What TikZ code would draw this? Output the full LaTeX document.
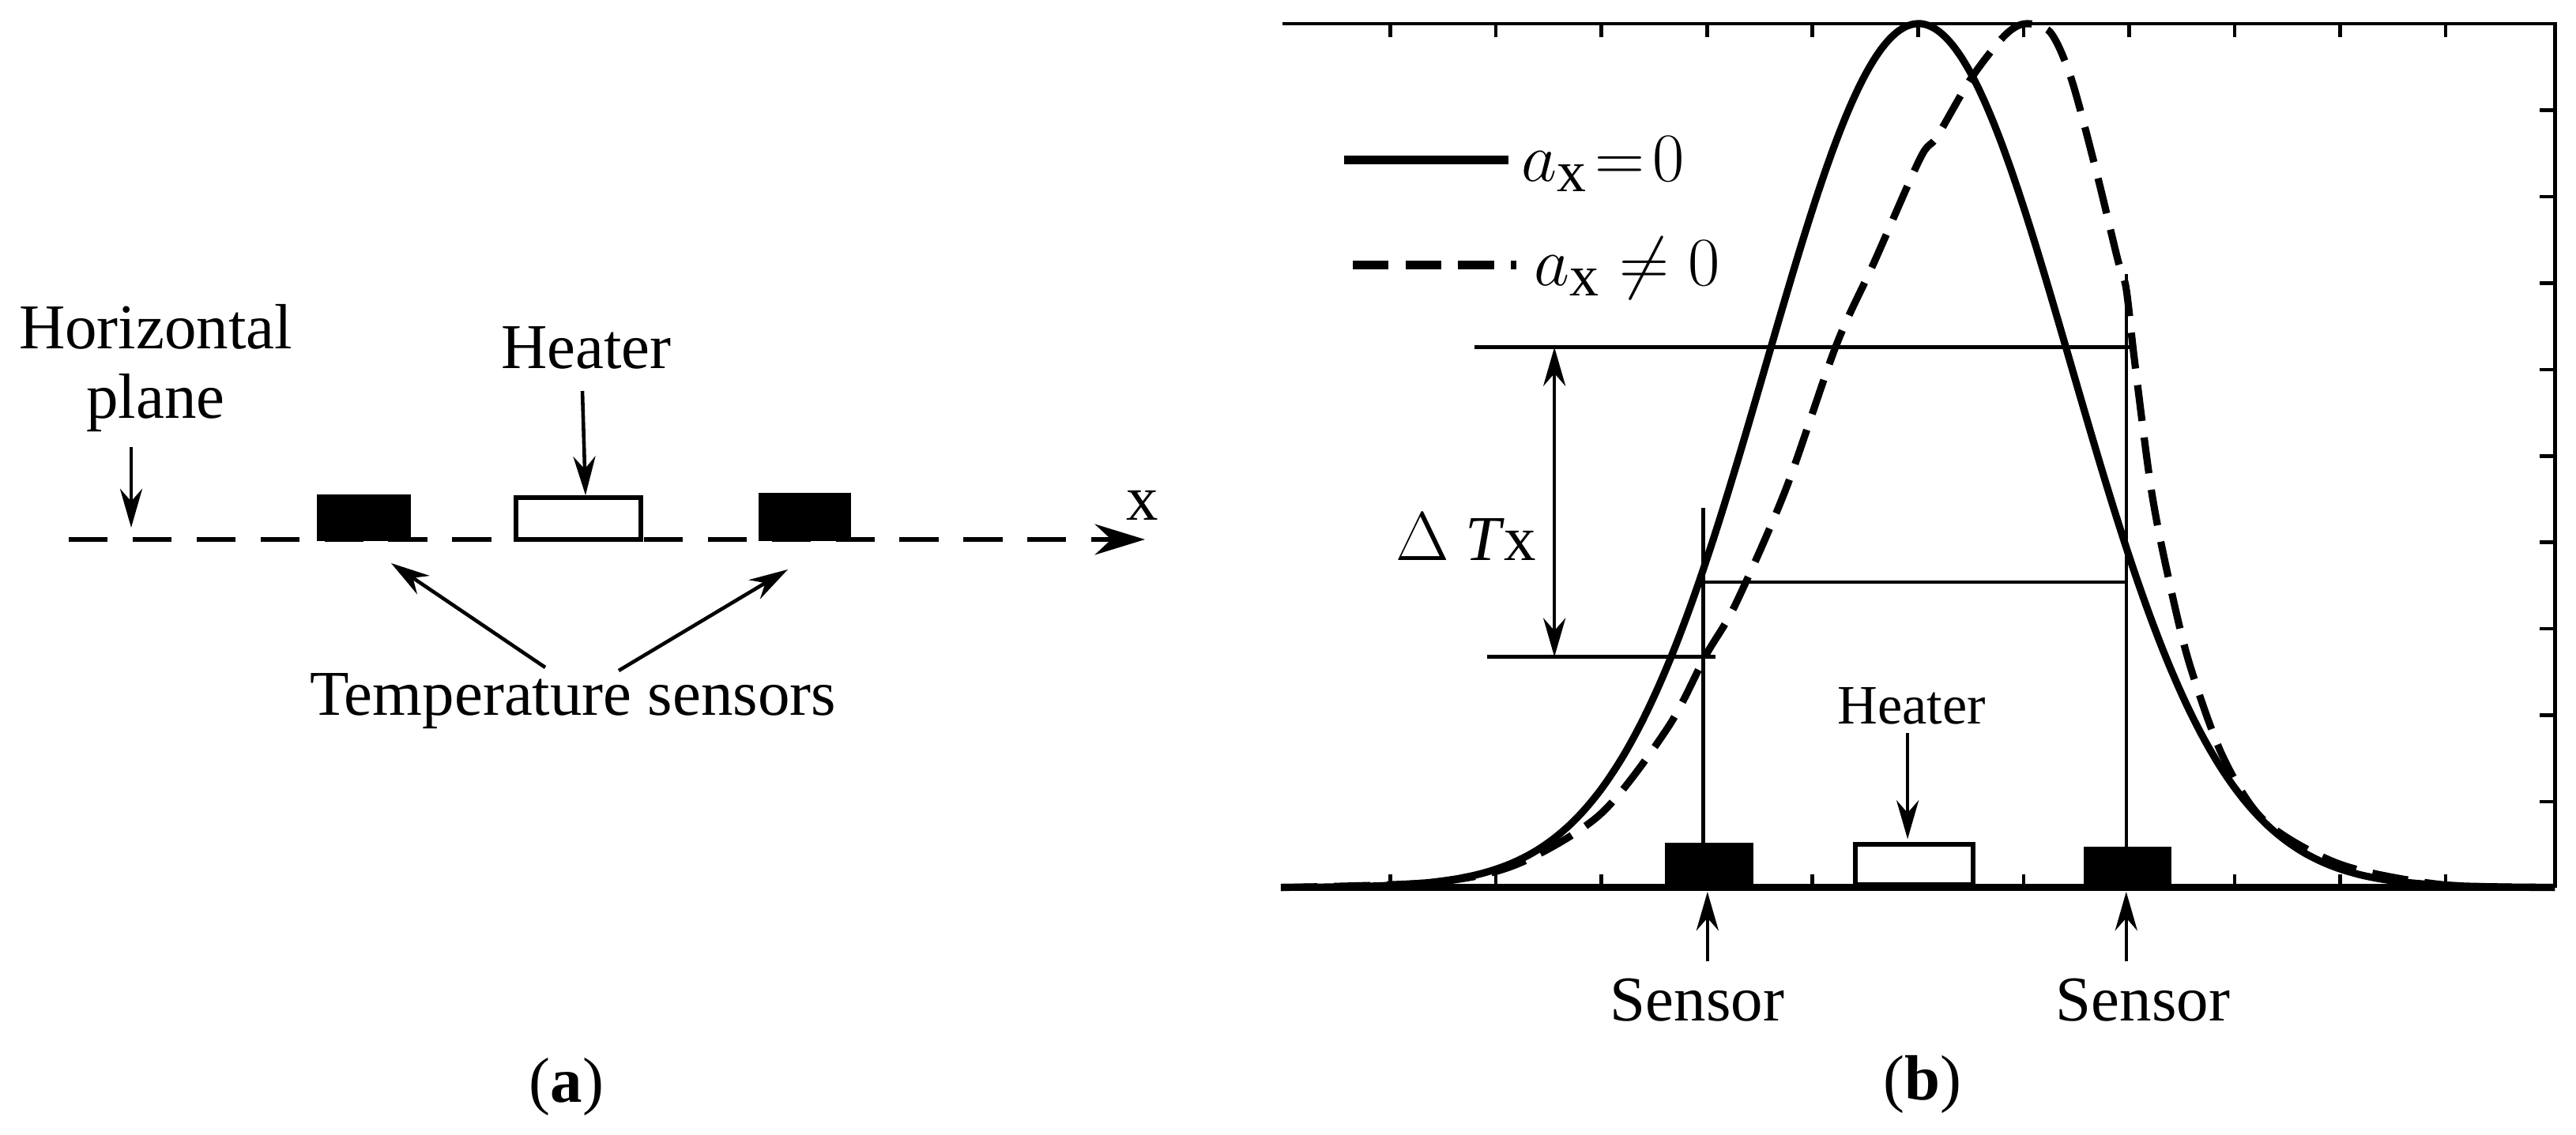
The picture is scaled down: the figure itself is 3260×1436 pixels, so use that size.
\documentclass[tikz,border=0pt]{standalone}
\usepackage{fontspec}
\setmainfont{Liberation Serif}
\usetikzlibrary{arrows.meta}
\begin{document}
\begin{tikzpicture}[x=0.01cm,y=-0.01cm,
  lbl/.style={font=\fontsize{23}{25}\selectfont,inner sep=0pt},
  thin/.style={line width=1.3pt},
  arr/.style={line width=1.3pt,-{Stealth[length=14pt,width=8pt]}},
  darr/.style={line width=1.3pt,{Stealth[length=14pt,width=8pt]}-{Stealth[length=14pt,width=8pt]}},
  thick/.style={line width=2.6pt},
  sensorbox/.style={draw,fill=black,line width=1.2pt},
  heaterbox/.style={draw,fill=white,line width=1.6pt}]
\useasboundingbox (0,0) rectangle (3260,1436);
% ---------- panel (a)
\coordinate (xs) at (87,683);
\coordinate (xe) at (1449,683);
\draw[line width=1.8pt,dash pattern=on 14pt off 9pt,-{Stealth[length=18pt,width=11pt]}] (xs) -- (xe);
\node[lbl,anchor=west] (xl) at (1425,640) {x};
\draw[sensorbox] (403,628) rectangle (518,683);
\draw[heaterbox] (653,630) rectangle (811,683);
\draw[sensorbox] (962,626) rectangle (1075,683);
\node[lbl,align=center] (hp) at (197,466) {Horizontal\\plane};
\coordinate (hpa) at (166,566);
\coordinate (hpb) at (166,668);
\draw[arr] (hpa) -- (hpb);
\node[lbl] (ha) at (742,440) {Heater};
\coordinate (haa) at (737,495);
\coordinate (hab) at (741,627);
\draw[arr] (haa) -- (hab);
\node[lbl] (ts) at (725,888) {Temperature sensors};
\coordinate (t1) at (690,845);
\coordinate (t1e) at (495,713);
\coordinate (t2) at (783,849);
\coordinate (t2e) at (997,721);
\draw[arr] (t1) -- (t1e);
\draw[arr] (t2) -- (t2e);
\node[lbl] (la) at (717,1376) {(\textbf{a})};
% ---------- panel (b)
\begin{scope}[shift={(1600,0)},xscale=1.064,yscale=0.912]
\draw[thin] (22,33) -- (1535,33) -- (1535,1232);
\draw[thick] (20,1232) -- (1535,1232);
\foreach \i in {0,...,10} {
  \draw[thin] (150+125.5*\i,1232) -- (150+125.5*\i,1214);
  \draw[thin] (150+125.5*\i,33) -- (150+125.5*\i,51);
}
\foreach \j in {0,...,8} {
  \draw[thin] (1535,153+120*\j) -- (1517,153+120*\j);
}
\draw[thick] plot[smooth,domain=-4.19:4.18,samples=160] ({778+181*\x},{1232-1199*exp(-0.5*\x*\x)});
\draw[thick,dash pattern=on 13pt off 6pt] plot[smooth,tension=0.5] coordinates {
(20,1232)(200,1225)(300,1200)(400,1130)(480,1010)(525,910)(560,840)(620,680)(680,480)(725,365)(780,220)(800,190)(840,110)(880,50)(905,33)(935,45)(960,110)(990,240)(1015,360)(1025,400)(1035,500)(1055,680)(1075,800)(1100,920)(1140,1050)(1190,1140)(1280,1200)(1400,1228)(1535,1232)};
% legend
\coordinate (l1a) at (95,222); \coordinate (l1b) at (290,222);
\draw[line width=3pt] (l1a) -- (l1b);
\node[font=\fontsize{30}{34}\selectfont,anchor=west,inner sep=0pt] (le1) at (305,228) {$a_{\mathrm{x}}\!=\!0$};
\coordinate (l2a) at (105,368); \coordinate (l2b) at (300,368);
\draw[line width=3pt,dash pattern=on 13pt off 6pt] (l2a) -- (l2b);
\node[font=\fontsize{30}{34}\selectfont,anchor=west,inner sep=0pt] (le2) at (320,372) {$a_{\mathrm{x}}\neq 0$};
% guides
\coordinate (v1a) at (522,705); \coordinate (v1b) at (522,1175);
\coordinate (v2a) at (1025,380); \coordinate (v2b) at (1025,1180);
\draw[thin] (v1a) -- (v1b);
\draw[thin] (v2a) -- (v2b);
\coordinate (h1a) at (250,482); \coordinate (h1b) at (1030,482);
\coordinate (h2a) at (522,808); \coordinate (h2b) at (1025,808);
\coordinate (h3a) at (265,912); \coordinate (h3b) at (537,912);
\draw[thin] (h1a) -- (h1b);
\draw[thin] (h2a) -- (h2b);
\draw[thin] (h3a) -- (h3b);
\coordinate (da) at (345,482); \coordinate (db) at (345,912);
\draw[darr] (da) -- (db);
\node[lbl] (dt) at (240,745) {$\Delta$ \textit{T}x};
% boxes
\draw[sensorbox] (478,1172) rectangle (580,1230);
\draw[heaterbox] (703,1172) rectangle (843,1228);
\draw[sensorbox] (977,1178) rectangle (1077,1230);
\node[font=\fontsize{20}{22}\selectfont,inner sep=0pt] (hb) at (770,980) {Heater};
\coordinate (hba) at (765,1018); \coordinate (hbb) at (765,1165);
\draw[arr] (hba) -- (hbb);
\coordinate (s1a) at (527,1335); \coordinate (s1b) at (527,1238);
\coordinate (s2a) at (1025,1335); \coordinate (s2b) at (1025,1238);
\draw[arr] (s1a) -- (s1b);
\draw[arr] (s2a) -- (s2b);
\node[lbl] (sn1) at (515,1388) {Sensor};
\node[lbl] (sn2) at (1045,1388) {Sensor};
\node[lbl] (lb) at (783,1505) {(\textbf{b})};
\end{scope}
\end{tikzpicture}
\end{document}
